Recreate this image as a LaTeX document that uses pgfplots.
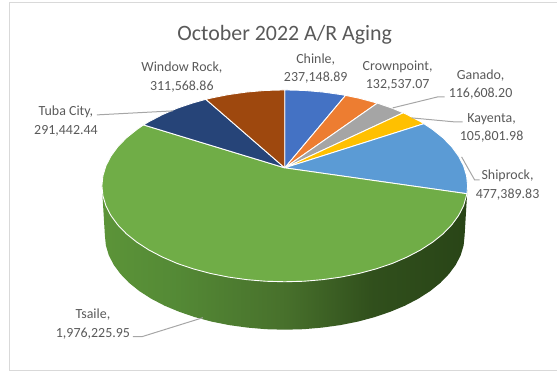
\documentclass[border=0pt]{standalone}
\usepackage{fontspec}
\setmainfont{Carlito}
\usepackage{pgfplots}
\pgfplotsset{compat=1.18}
\definecolor{txt}{HTML}{595959}
\definecolor{leader}{HTML}{A6A6A6}
\definecolor{framec}{HTML}{D9D9D9}
\definecolor{cChinle}{HTML}{4472C4}
\definecolor{cCrown}{HTML}{ED7D31}
\definecolor{cGanado}{HTML}{A5A5A5}
\definecolor{cKayenta}{HTML}{FFC000}
\definecolor{cShip}{HTML}{5B9BD5}
\definecolor{cTsaile}{HTML}{70AD47}
\definecolor{cTuba}{HTML}{264478}
\definecolor{cWindow}{HTML}{9E480E}
% Wall of the pie: lit on the left, falling off to the right
\pgfdeclarehorizontalshading{piewall}{100bp}{
  rgb(0bp)=(0.36,0.58,0.22);
  rgb(25bp)=(0.36,0.58,0.22);
  rgb(35bp)=(0.33,0.54,0.21);
  rgb(50bp)=(0.28,0.44,0.17);
  rgb(62bp)=(0.19,0.31,0.11);
  rgb(75bp)=(0.16,0.27,0.09);
  rgb(100bp)=(0.16,0.27,0.09)}
\tikzset{
  lab/.style={align=center,text=txt,font=\fontsize{14}{18.6}\selectfont,inner sep=0pt},
  lead/.style={draw=leader,line width=1pt}}
\begin{document}
\begin{tikzpicture}
\path (0,0) rectangle (557bp,372bp);
\begin{axis}[
  at={(0,0)},anchor=south west,
  width=557bp,height=372bp,scale only axis,
  xmin=0,xmax=557,ymin=0,ymax=372,y dir=reverse,
  hide axis,clip=false]

% Wall below the rim
\addplot[draw=none,shade,shading=piewall] coordinates {
 (468,186)(465,236)(464,245.8)(461.1,255.5)(456.2,265)(449.4,274.2)(440.9,283)(430.6,291.3)
 (418.8,298.9)(405.4,305.9)(390.8,312)(375,317.4)(358.2,321.9)(340.6,325.4)(322.4,327.9)
 (303.8,329.5)(285,330)(266.2,329.5)(247.6,327.9)(229.4,325.4)(211.8,321.9)(195,317.4)
 (179.2,312)(164.6,305.9)(151.2,298.9)(139.4,291.3)(129.1,283)(120.6,274.2)(113.8,265)
 (108.9,255.5)(106,245.8)(105,236)(102,186)(468,186)};

% Top face, one wedge per site, clockwise from twelve o'clock
\addplot[fill=cChinle,draw=white,line width=0.9pt,line join=round] coordinates {
 (285,168)(285,90)(304.1,90.5)(323,92.1)(341.5,94.7)(345.8,95.5)(285,168)};
\addplot[fill=cCrown,draw=white,line width=0.9pt,line join=round] coordinates {
 (285,168)(345.8,95.5)(359.4,98.3)(376.5,102.9)(377.7,103.2)(285,168)};
\addplot[fill=cGanado,draw=white,line width=0.9pt,line join=round] coordinates {
 (285,168)(377.7,103.2)(392.6,108.3)(403.6,112.9)(285,168)};
\addplot[fill=cKayenta,draw=white,line width=0.9pt,line join=round] coordinates {
 (285,168)(403.6,112.9)(407.4,114.7)(421,121.8)(424.3,123.8)(285,168)};
\addplot[fill=cShip,draw=white,line width=0.9pt,line join=round] coordinates {
 (285,168)(424.3,123.8)(433,129.6)(443.5,138)(452.2,147)(459,156.3)(464,166)(467,176)(468,186)
 (467.4,193.9)(285,168)};
\addplot[fill=cTsaile,draw=white,line width=0.9pt,line join=round] coordinates {
 (285,168)(467.4,193.9)(464,206)(459,215.7)(452.2,225)(443.5,234)(433,242.4)(421,250.2)
 (407.4,257.3)(392.6,263.7)(376.5,269.1)(359.4,273.7)(341.5,277.3)(323,279.9)(304.1,281.5)
 (285,282)(265.9,281.5)(247,279.9)(228.5,277.3)(210.6,273.7)(193.5,269.1)(177.4,263.7)
 (162.6,257.3)(149,250.2)(137,242.4)(126.5,234)(117.8,225)(111,215.7)(106,206)(103,196)
 (102,186)(103,176)(106,166)(111,156.3)(117.8,147)(126.5,138)(137,129.6)(143.6,125)(285,168)};
\addplot[fill=cTuba,draw=white,line width=0.9pt,line join=round] coordinates {
 (285,168)(143.6,125)(149,121.8)(162.6,114.7)(177.4,108.3)(193.5,102.9)(206,99.4)(285,168)};
\addplot[fill=cWindow,draw=white,line width=0.9pt,line join=round] coordinates {
 (285,168)(206,99.4)(210.6,98.3)(228.5,94.7)(247,92.1)(265.9,90.5)(285,90)(285,168)};

% Leader lines
\addplot[lead] coordinates {(133,337)(142,337)(203,318)};
\addplot[lead] coordinates {(97,115)(173,111)};
\addplot[lead] coordinates {(445,97)(438,97)(393,108)};
\addplot[lead] coordinates {(463,122)(455,122)(412,118)};
\addplot[lead] coordinates {(480,180)(475,180)(462,157)};

% Outer frame
\addplot[draw=framec,line width=1pt] coordinates {(557,3)(10,3)(10,371)(557,371)};

% Title and data labels
\node[text=txt,font=\fontsize{22}{26}\selectfont,inner sep=0pt] at (axis cs:285,35) {October 2022 A/R Aging};
\node[lab] at (axis cs:316,68.5) {Chinle,\\237,148.89};
\node[lab] at (axis cs:398,75.5) {Crownpoint,\\132,537.07};
\node[lab] at (axis cs:481,84.5) {Ganado,\\116,608.20};
\node[lab] at (axis cs:492,128) {Kayenta,\\105,801.98};
\node[lab] at (axis cs:508,185) {Shiprock,\\477,389.83};
\node[lab] at (axis cs:93,324.5) {Tsaile,\\1,976,225.95};
\node[lab] at (axis cs:66,121) {Tuba City,\\291,442.44};
\node[lab] at (axis cs:182,77) {Window Rock,\\311,568.86};
\end{axis}
\end{tikzpicture}
\end{document}
